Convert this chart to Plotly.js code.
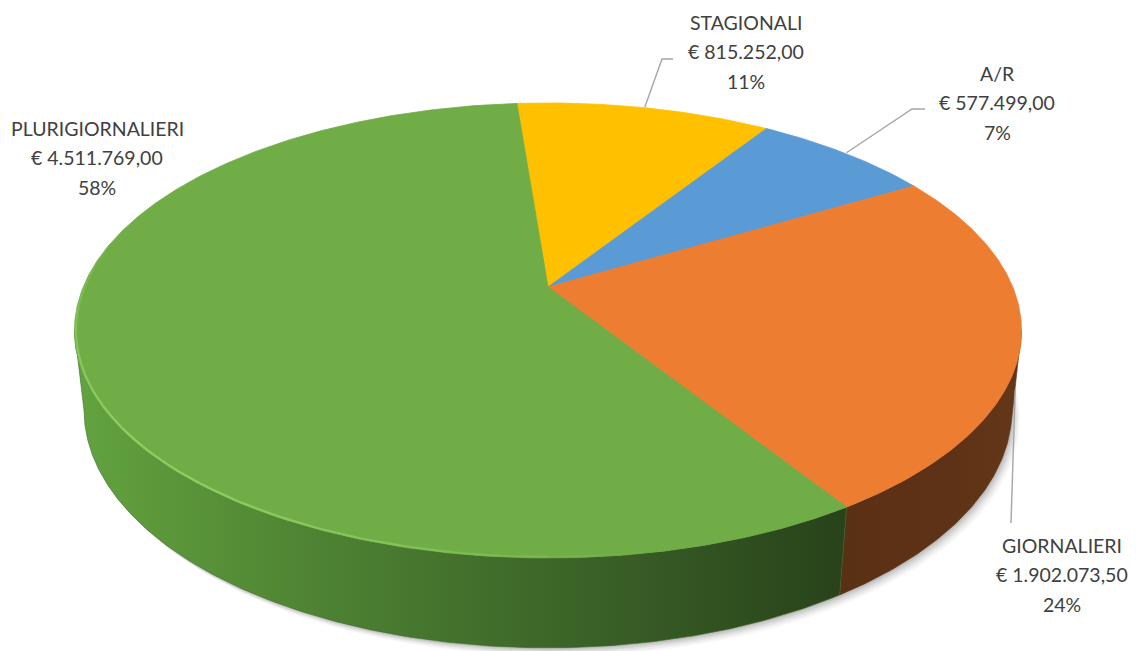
<!DOCTYPE html>
<html><head><meta charset="utf-8">
<script src="https://cdn.plot.ly/plotly-3.0.1.min.js"></script>
<style>html,body{margin:0;padding:0;background:#fff;overflow:hidden}#chart{width:1146px;height:651px}</style>
</head><body><div id="chart"></div>
<script>
// ---- data (clockwise from the top) ----
const categories = ['STAGIONALI', 'A/R', 'GIORNALIERI', 'PLURIGIORNALIERI'];
const values = [815252.00, 577499.00, 1902073.50, 4511769.00];
const percentLabels = ['11%', '7%', '24%', '58%'];

// ---- style ----
const topColors = ['#ffc000', '#5b9bd5', '#ed7d31', '#70ad47'];
const wallScales = [
  [[0, '#7a5c00'], [1, '#6b5000']],
  [[0, '#2d4f70'], [1, '#2d4f70']],
  [[0, '#5a3015'], [0.6, '#5e3216'], [1, '#643718']],
  [[0, '#63a33f'], [0.3, '#4f8433'], [0.65, '#3b6328'], [1, '#28421a']]
];
const wallLine = ['#7a5c00', '#2d4f70', '#5e3216', '#3f6a2a'];

// ---- 3D perspective model ----
const W = 1146, H = 651;
const CX = 548, CY = 287, K = 2146;           // pixel placement of the pie apex, scale
const ELEV = 28.14 * Math.PI / 180;
const S = Math.sin(ELEV), C = Math.cos(ELEV);
const LDIST = 4.617, DEPTH = 0.195, START = -4.56;

function proj(x, y, z) {
  const d = LDIST - y * S - z * C;
  return [x / d, (y * C - z * S) / d];
}
function rimPt(phiDeg, y, r) {
  const p = phiDeg * Math.PI / 180;
  return proj(r * Math.sin(p), y, -r * Math.cos(p));
}
function px2data(px, py) { return [(px - CX) / K, (CY - py) / K]; }

const total = values.reduce((a, b) => a + b, 0);
const bounds = [];
let acc = START;
values.forEach(v => { const a = acc; acc += v / total * 360; bounds.push([a, acc]); });

const traces = [];
function poly(pts, style) {
  traces.push(Object.assign({
    type: 'scatter', mode: 'lines', x: pts.map(p => p[0]), y: pts.map(p => p[1]),
    fill: 'toself', hoverinfo: 'skip', showlegend: false
  }, style));
}

// soft shadow under the pie
[[10, 0.03], [8, 0.04], [6, 0.05], [4, 0.065], [2, 0.08]].forEach(([off, op]) => {
  const pts = [];
  for (let f = 0; f <= 360; f += 2) {
    const p = rimPt(f, -DEPTH, 1.0);
    pts.push([p[0] + off * 0.8 / K, p[1] - off * 0.8 / K]);
  }
  poly(pts, { fillcolor: 'rgba(0,0,0,' + op + ')', line: { width: 0 } });
});

// visible outer walls
const silh = Math.acos(-C / LDIST) * 180 / Math.PI;   // silhouette angle
const vis0 = silh, vis1 = 360 - silh;
bounds.forEach(([a, b], i) => {
  const lo = Math.max(a, vis0), hi = Math.min(b, vis1);
  if (hi <= lo) return;
  const pts = [];
  for (let f = lo; f < hi; f += 0.5) pts.push(rimPt(f, 0, 1));
  pts.push(rimPt(hi, 0, 1));
  for (let f = hi; f > lo; f -= 0.5) pts.push(rimPt(f, -DEPTH, 1));
  pts.push(rimPt(lo, -DEPTH, 1));
  pts.push(pts[0]);
  poly(pts, {
    fillcolor: wallLine[i],
    fillgradient: { type: 'horizontal', colorscale: wallScales[i] },
    line: { width: 0.6, color: wallLine[i] }
  });
});

// top faces
bounds.forEach(([a, b], i) => {
  const pts = [proj(0, 0, 0)];
  for (let f = a; f < b; f += 0.5) pts.push(rimPt(f, 0, 1));
  pts.push(rimPt(b, 0, 1));
  pts.push(proj(0, 0, 0));
  poly(pts, { fillcolor: topColors[i], line: { width: 0.8, color: topColors[i] } });
});

// bevel highlight along the front-left rim (fading towards both ends)
for (let a = 170; a < 285; a += 5) {
  const m = a + 2.5;
  const op = Math.max(0, Math.sin((m - 170) / 115 * Math.PI)) * 0.75;
  const pts = [];
  for (let f = a; f <= a + 5.2; f += 0.5) pts.push(rimPt(f, 0, 0.997));
  traces.push({ type: 'scatter', mode: 'lines', x: pts.map(p => p[0]), y: pts.map(p => p[1]),
    line: { color: 'rgba(150,218,108,' + op.toFixed(3) + ')', width: 2.2 }, hoverinfo: 'skip', showlegend: false });
}

// ---- labels ----
function fmtEuro(v) {
  const parts = v.toFixed(2).split('.');
  return '€ ' + parts[0].replace(/\B(?=(\d{3})+(?!\d))/g, '.') + ',' + parts[1];
}
// label block placement (pixel centre x, first-line y) and leader elbow points
const labelPos = [[746, 22], [997, 73], [1062, 545], [97, 128]];
const leaderEnds = [
  [[662, 59], [673, 59]],
  [[912, 109], [925, 109]],
  [[1011, 523]],
  null
];
const annotations = [];
const LINE_GAP = 29.5;
categories.forEach((cat, i) => {
  const lines = [cat, fmtEuro(values[i]), percentLabels[i]];
  lines.forEach((t, j) => {
    annotations.push({
      text: t, xref: 'paper', yref: 'paper', showarrow: false,
      x: labelPos[i][0] / W, y: 1 - (labelPos[i][1] + j * LINE_GAP) / H,
      xanchor: 'center', yanchor: 'middle',
      font: { family: 'Lato, Carlito, Calibri, sans-serif', size: 19.5, color: '#404040' }
    });
  });
  if (leaderEnds[i]) {
    const mid = (bounds[i][0] + bounds[i][1]) / 2;
    const onWall = mid > vis0 && mid < vis1;
    const start = onWall ? rimPt(mid, -DEPTH * 0.6, 1.0) : rimPt(mid, 0, 1.005);
    const pts = [start].concat(leaderEnds[i].map(p => px2data(p[0], p[1])));
    traces.push({ type: 'scatter', mode: 'lines', x: pts.map(p => p[0]), y: pts.map(p => p[1]),
      line: { color: '#a6a6a6', width: 1.4 }, hoverinfo: 'skip', showlegend: false });
  }
});

const layout = {
  width: W, height: H, margin: { l: 0, r: 0, t: 0, b: 0 },
  paper_bgcolor: '#ffffff', plot_bgcolor: '#ffffff', showlegend: false,
  xaxis: { range: [(0 - CX) / K, (W - CX) / K], visible: false, fixedrange: true },
  yaxis: { range: [(CY - H) / K, CY / K], visible: false, fixedrange: true },
  annotations: annotations
};
Plotly.newPlot('chart', traces, layout, { displayModeBar: false, staticPlot: true });
</script>
</body></html>
